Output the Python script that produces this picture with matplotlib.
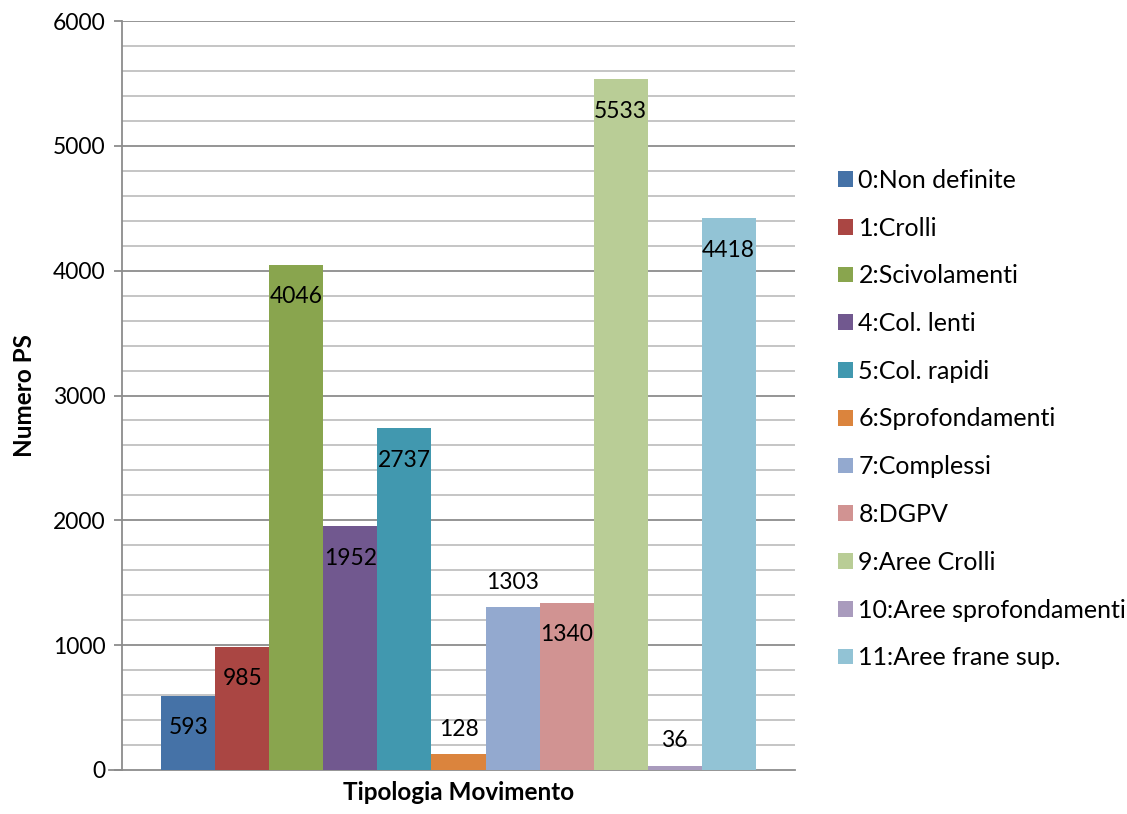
import matplotlib
matplotlib.use('Agg')
import matplotlib.pyplot as plt
from matplotlib.patches import Patch

plt.rcParams['font.family'] = ['Lato', 'DejaVu Sans']

# movement types and number of PS for each
categories = ['0:Non definite', '1:Crolli', '2:Scivolamenti', '4:Col. lenti', '5:Col. rapidi',
              '6:Sprofondamenti', '7:Complessi', '8:DGPV', '9:Aree Crolli',
              '10:Aree sprofondamenti', '11:Aree frane sup.']
values = [593, 985, 4046, 1952, 2737, 128, 1303, 1340, 5533, 36, 4418]
colors = ['#4572A7', '#AA4643', '#89A54E', '#71588F', '#4198AF', '#DB843D',
          '#93A9CF', '#D19392', '#B9CD96', '#A99BBD', '#92C3D5']
# labels drawn above the bar instead of inside
labels_outside = [128, 1303, 36]

fig = plt.figure(figsize=(11.27, 8.14), dpi=100)
ax = fig.add_axes([122 / 1127, 44 / 814, 673 / 1127, 749 / 814])

x = list(range(len(values)))
bars = ax.bar(x, values, width=1.0, color=colors, zorder=3)

ax.set_ylim(0, 6000)
ax.set_xlim(-0.5 - 0.73, len(values) - 0.5 + 0.73)

# grid: light lines every 200, darker every 1000
for y in range(200, 6001, 200):
    if y % 1000 == 0:
        ax.axhline(y, color='#8C8C8C', lw=1.3, zorder=1)
    else:
        ax.axhline(y, color='#C0C0C0', lw=1.3, zorder=1)

ax.set_yticks(range(0, 6001, 1000))
ax.set_xticks([])
ax.tick_params(axis='y', length=6, width=1.3, color='#8C8C8C', labelsize=16.5, pad=6)
for s in ['top', 'right']:
    ax.spines[s].set_visible(False)
ax.spines['left'].set_color('#8C8C8C')
ax.spines['left'].set_linewidth(1.3)
ax.spines['bottom'].set_color('#8C8C8C')
ax.spines['bottom'].set_linewidth(1.3)
# extend baseline to the left like the other major ticks
ax.plot([-0.02, 0], [0, 0], transform=ax.get_yaxis_transform(), color='#8C8C8C',
        lw=1.3, clip_on=False)

for b, v in zip(bars, values):
    cx = b.get_x() + b.get_width() / 2
    if v in labels_outside:
        ax.annotate(str(v), (cx, v), xytext=(0, 18), textcoords='offset points',
                    ha='center', va='center', fontsize=16.5)
    else:
        ax.annotate(str(v), (cx, v), xytext=(0, -23), textcoords='offset points',
                    ha='center', va='center', fontsize=16.5)

ax.set_ylabel('Numero PS', fontsize=17.5, fontweight='bold', labelpad=12)
ax.set_xlabel('Tipologia Movimento', fontsize=17.5, fontweight='bold', labelpad=8)

handles = [Patch(facecolor=c, label=l) for c, l in zip(colors, categories)]
fig.legend(handles=handles, loc='center left', bbox_to_anchor=(815 / 1127, 1 - 419 / 814),
           frameon=False, fontsize=18, handlelength=0.6, handleheight=0.6,
           handletextpad=0.24, labelspacing=0.99)

fig.savefig('out.png', dpi=100)
